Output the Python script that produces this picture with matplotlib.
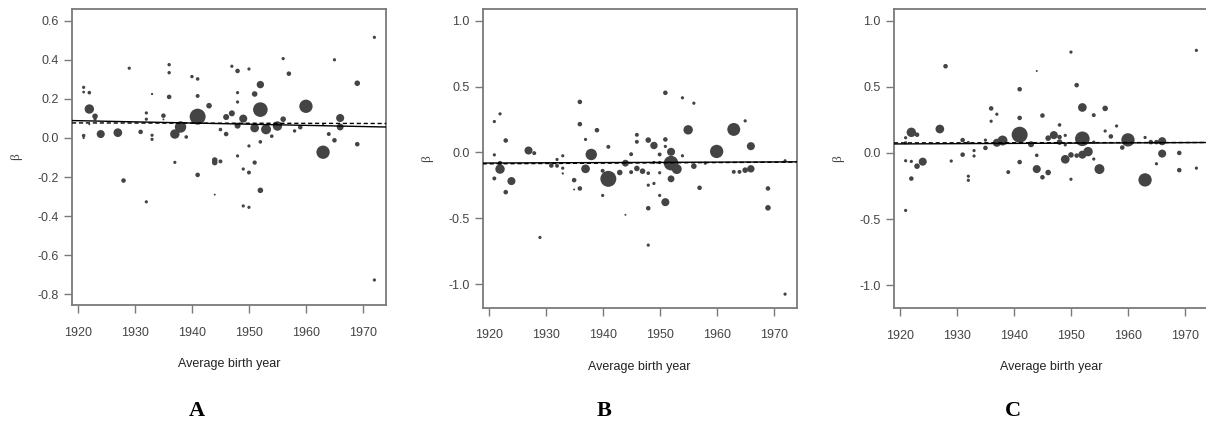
import numpy as np
import matplotlib
matplotlib.use("Agg")
import matplotlib.pyplot as plt

# Panel A
a_year = [1921, 1921, 1922, 1922, 1923, 1923, 1922, 1921, 1921, 1924, 1927, 1929, 1928, 1931,
          1932, 1932, 1933, 1933, 1933, 1935, 1935, 1936, 1936, 1936, 1937, 1938, 1937, 1939,
          1940, 1941, 1941, 1941, 1941, 1943, 1944, 1944, 1945, 1945, 1946, 1946, 1947, 1947,
          1948, 1948, 1948, 1948, 1948, 1949, 1949, 1950, 1950, 1950, 1951, 1951, 1951, 1952,
          1952, 1952, 1952, 1953, 1954, 1955, 1956, 1956, 1957, 1958, 1959, 1960, 1963, 1963,
          1964, 1965, 1965, 1966, 1966, 1969, 1969, 1972, 1932, 1944, 1949, 1950, 1972]
a_beta = [0.259, 0.235, 0.232, 0.148, 0.111, 0.097, 0.07, 0.012, 0.0, 0.02, 0.027, 0.357, -0.218, 0.031,
          0.128, 0.096, 0.225, 0.014, -0.007, 0.114, 0.095, 0.375, 0.334, 0.21, 0.02, 0.056, -0.125, 0.005,
          0.314, 0.302, 0.109, 0.215, -0.189, 0.165, -0.113, -0.126, -0.12, 0.043, 0.02, 0.107, 0.126, 0.367,
          0.343, 0.232, 0.184, 0.063, -0.092, 0.099, -0.159, 0.353, -0.041, -0.177, 0.225, 0.051, -0.126, 0.273,
          0.145, -0.02, -0.268, 0.044, 0.009, 0.061, 0.096, 0.406, 0.329, 0.036, 0.055, 0.162, 0.07, -0.073,
          0.02, 0.4, -0.012, 0.102, 0.056, 0.28, -0.032, 0.515, -0.327, -0.29, -0.348, -0.355, -0.727]
a_n = [4, 3, 5, 34, 12, 4, 1.5, 5, 2, 25, 29, 4, 8, 8,
       4, 4, 2, 4, 4, 8, 1.5, 4.5, 4.5, 8, 34, 50, 4, 5,
       4.5, 5, 98, 6, 8, 12, 12, 12, 6, 5, 8, 14, 14, 4,
       8, 4, 4, 14, 4, 25, 4, 4, 4, 6, 12, 29, 7, 21,
       82, 5, 12, 38, 5, 34, 12, 4, 8, 4.5, 8, 68, 1.5, 68,
       6, 4, 8, 25, 18, 12, 8, 4, 4, 1.5, 4, 4, 4]

# Panel B
b_year = [1921, 1922, 1921, 1922, 1922, 1921, 1923, 1924, 1923, 1927, 1928, 1931, 1932, 1932,
          1933, 1933, 1933, 1935, 1935, 1936, 1936, 1936, 1937, 1937, 1938, 1939, 1941, 1940,
          1941, 1943, 1944, 1945, 1945, 1946, 1946, 1946, 1947, 1948, 1948, 1949, 1949, 1950,
          1950, 1950, 1951, 1951, 1951, 1952, 1952, 1953, 1952, 1954, 1954, 1956, 1955, 1956,
          1958, 1957, 1960, 1963, 1965, 1966, 1963, 1964, 1965, 1966, 1969, 1972, 1948, 1949,
          1950, 1951, 1940, 1944, 1948, 1929, 1948, 1969, 1972]
b_beta = [0.235, 0.293, -0.018, -0.081, -0.126, -0.197, 0.091, -0.217, -0.301, 0.015, -0.005, -0.099, -0.101, -0.053,
          -0.025, -0.119, -0.159, -0.21, -0.281, 0.384, 0.215, -0.273, 0.099, -0.124, -0.015, 0.169, 0.043, -0.139,
          -0.2, -0.152, -0.081, -0.013, -0.149, 0.134, 0.081, -0.121, -0.142, -0.157, 0.094, 0.053, -0.076, -0.015,
          -0.076, -0.154, 0.453, 0.099, 0.046, 0.005, -0.081, -0.126, -0.2, 0.415, -0.025, 0.374, 0.172, -0.104,
          -0.081, -0.268, 0.008, 0.175, 0.24, 0.048, -0.147, -0.147, -0.134, -0.124, -0.273, -0.063, -0.248, -0.235,
          -0.326, -0.377, -0.326, -0.473, -0.423, -0.645, -0.703, -0.42, -1.075]
b_n = [4, 4, 4, 8, 34, 6, 8, 25, 8, 25, 6, 8, 6, 4,
       4, 4, 2, 8, 1.5, 8, 8, 8, 4, 29, 50, 8, 6, 6,
       98, 12, 18, 6, 6, 6, 6, 12, 12, 5, 12, 21, 4, 6,
       4, 4, 8, 8, 4, 25, 82, 38, 18, 4, 4, 4, 34, 12,
       4, 8, 68, 64, 4, 25, 6, 6, 12, 21, 8, 4, 4, 4,
       4, 25, 4, 1.5, 8, 4, 4, 12, 4]

# Panel C
c_year = [1921, 1921, 1921, 1922, 1923, 1922, 1923, 1924, 1922, 1927, 1928, 1929, 1931, 1932,
          1931, 1933, 1933, 1932, 1932, 1935, 1935, 1936, 1936, 1937, 1937, 1938, 1939, 1941,
          1941, 1941, 1941, 1943, 1944, 1944, 1944, 1946, 1945, 1945, 1946, 1947, 1948, 1948,
          1948, 1949, 1949, 1949, 1950, 1950, 1950, 1951, 1952, 1952, 1951, 1952, 1953, 1954,
          1954, 1954, 1955, 1956, 1956, 1957, 1958, 1959, 1960, 1963, 1963, 1964, 1965, 1965,
          1966, 1966, 1969, 1969, 1972, 1972, 1921]
c_beta = [0.115, 0.077, -0.059, 0.156, 0.138, -0.064, -0.1, -0.066, -0.194, 0.181, 0.656, -0.061, 0.097, 0.079,
          -0.013, 0.018, -0.023, -0.176, -0.207, 0.038, 0.097, 0.337, 0.24, 0.293, 0.077, 0.094, -0.145, 0.138,
          0.482, 0.265, -0.069, 0.066, 0.62, -0.018, -0.122, -0.148, -0.184, 0.283, 0.112, 0.135, 0.12, 0.212,
          0.082, 0.133, 0.061, -0.048, -0.015, 0.763, -0.199, 0.513, 0.344, 0.107, -0.02, -0.013, 0.01, 0.286,
          0.082, -0.046, -0.122, 0.337, 0.166, 0.125, 0.204, 0.041, 0.099, 0.117, -0.204, 0.082, 0.082, -0.082,
          0.089, -0.005, 0.0, -0.13, 0.776, -0.115, -0.435]
c_n = [4, 4, 4, 34, 8, 4, 12, 25, 8, 29, 8, 4, 8, 4,
       8, 4, 4, 4, 4, 8, 4, 8, 4, 4, 25, 38, 6, 98,
       8, 8, 8, 14, 1.5, 5, 25, 12, 8, 8, 12, 25, 8, 5,
       12, 4, 4, 29, 12, 4, 4, 8, 29, 82, 8, 25, 34, 6,
       4, 4, 38, 12, 4, 8, 4, 8, 68, 4, 68, 8, 8, 4,
       25, 25, 8, 8, 4, 4, 4]

# fitted lines, value at left / right edge of the plot
line_x = [1918.96, 1974.04]
a_solid, a_dash = [0.089, 0.056], [0.077, 0.074]
b_solid, b_dash = [-0.080, -0.071], [-0.086, -0.073]
c_solid, c_dash = [0.068, 0.079], [0.076, 0.079]

W, H = 1206, 425
fig = plt.figure(figsize=(W / 100, H / 100), dpi=100)
plt.rcParams['font.family'] = ['Liberation Sans', 'DejaVu Sans']

frame_col = '#7a7a7a'
text_col = '#444444'
dot_col = '#444444'


def make_panel(box, year, beta, n, solid, dash, ylim, yticks, ylabels, letter, letter_x):
    left, top, right, bottom = box
    ax = fig.add_axes([left / W, 1 - bottom / H, (right - left) / W, (bottom - top) / H])
    ax.scatter(year, beta, s=np.array(n) * 1.35, color=dot_col, linewidths=0, zorder=2)
    ax.plot(line_x, solid, color='black', lw=1.0, zorder=3)
    ax.plot(line_x, dash, color='black', lw=1.0, ls=(0, (3, 2)), zorder=3)
    ax.set_xlim(line_x)
    ax.set_ylim(ylim)
    ax.set_xticks([1920, 1930, 1940, 1950, 1960, 1970])
    ax.set_yticks(yticks)
    ax.set_yticklabels(ylabels)
    for sp in ax.spines.values():
        sp.set_color(frame_col)
        sp.set_linewidth(1.3)
    ax.tick_params(direction='out', length=5.5, width=1.0, color=frame_col,
                   labelcolor=text_col, labelsize=9, pad=4)
    ax.tick_params(axis='x', pad=10)
    ax.set_xlabel('Average birth year', fontsize=9, color='#222222', labelpad=14)
    ax.set_ylabel('β', fontsize=9.5, color=text_col, labelpad=11, family='Liberation Serif')
    fig.text(letter_x / W, 1 - 411 / H, letter, ha='center', va='center',
             fontsize=16, fontweight='bold', family='Liberation Serif')
    return ax


make_panel((72, 9, 386, 305), a_year, a_beta, a_n, a_solid, a_dash, (-0.855, 0.66),
           [-0.8, -0.6, -0.4, -0.2, 0.0, 0.2, 0.4, 0.6],
           ['-0.8', '-0.6', '-0.4', '-0.2', '0.0', '0.2', '0.4', '0.6'], 'A', 197)
make_panel((482.7, 9, 796.7, 307.7), b_year, b_beta, b_n, b_solid, b_dash, (-1.178, 1.089),
           [-1.0, -0.5, 0.0, 0.5, 1.0], ['-1.0', '-0.5', '0.0', '0.5', '1.0'], 'B', 604)
make_panel((894, 9, 1208, 308), c_year, c_beta, c_n, c_solid, c_dash, (-1.173, 1.089),
           [-1.0, -0.5, 0.0, 0.5, 1.0], ['-1.0', '-0.5', '0.0', '0.5', '1.0'], 'C', 1013)

fig.savefig('out.png', dpi=100)
